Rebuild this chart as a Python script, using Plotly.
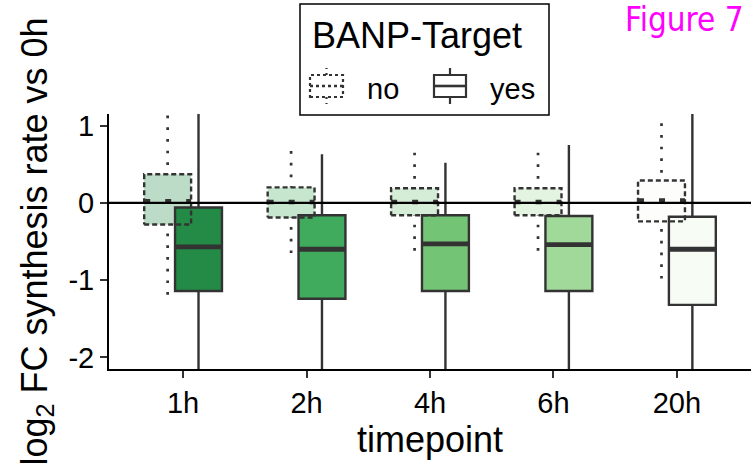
import plotly.graph_objects as go

# Timepoints and box statistics (log2 fold change of synthesis rate vs 0h)
timepoints = ["1h", "2h", "4h", "6h", "20h"]

# BANP-Target = "no"
no_lo = [-1.19, -0.65, -0.62, -0.62, -0.98]
no_q1 = [-0.28, -0.19, -0.16, -0.16, -0.24]
no_med = [0.02, 0.01, 0.01, 0.01, 0.03]
no_q3 = [0.37, 0.20, 0.19, 0.19, 0.29]
no_hi = [1.13, 0.67, 0.65, 0.65, 1.03]

# BANP-Target = "yes"
yes_lo = [-2.76, -2.86, -2.61, -2.60, -3.03]
yes_q1 = [-1.14, -1.24, -1.14, -1.14, -1.32]
yes_med = [-0.57, -0.60, -0.53, -0.54, -0.60]
yes_q3 = [-0.06, -0.16, -0.16, -0.17, -0.18]
yes_hi = [1.56, 0.63, 0.52, 0.75, 1.53]

# Greens fill per timepoint
fill_rgb = [(35, 139, 69), (65, 171, 93), (116, 196, 118), (161, 217, 155), (247, 252, 245)]

y_ticks = [-2, -1, 0, 1]
y_ticktext = ["-2", "-1", "0", "1"]

legend_title = "BANP-Target"
legend_labels = ["no", "yes"]

DODGE = 0.125
BOX_W = 0.38
EDGE = "#333333"
FONT = "Liberation Sans"

# Figure geometry (pixels) used to place the hand-built legend
W, H = 751, 470
ML, MR, MT, MB = 109, 0, 114, 101
PW, PH = W - ML - MR, H - MT - MB


def px(x):
    return (x - ML) / PW


def py(y):
    return (H - MB - y) / PH


fig = go.Figure()

# "no" boxes: translucent fill, dashed outline, dotted whiskers
for i, tp in enumerate(timepoints):
    c = i - DODGE
    r, g, b = fill_rgb[i]
    fig.add_trace(go.Box(
        x=[c], q1=[no_q1[i]], median=[no_med[i]], q3=[no_q3[i]],
        lowerfence=[no_lo[i]], upperfence=[no_hi[i]],
        width=BOX_W, whiskerwidth=0, boxpoints=False,
        fillcolor=f"rgba({r},{g},{b},0.3)", line=dict(width=0, color="rgba(0,0,0,0)"),
        showlegend=False, hoverinfo="skip",
    ))
    left, right = c - BOX_W / 2, c + BOX_W / 2
    fig.add_trace(go.Scatter(
        x=[left, right, right, left, left],
        y=[no_q1[i], no_q1[i], no_q3[i], no_q3[i], no_q1[i]],
        mode="lines", line=dict(color=EDGE, width=2.4, dash="5px,3px"),
        showlegend=False, hoverinfo="skip",
    ))
    # whiskers run from the fence tip back to the box so the dots reach the tip
    fig.add_trace(go.Scatter(
        x=[c, c, None, c, c],
        y=[no_hi[i], no_q3[i], None, no_lo[i], no_q1[i]],
        mode="lines", line=dict(color=EDGE, width=2.7, dash="2.7px,9px"),
        showlegend=False, hoverinfo="skip",
    ))
    fig.add_trace(go.Scatter(
        x=[left, right], y=[no_med[i], no_med[i]],
        mode="lines", line=dict(color=EDGE, width=4.5, dash="6px,15px"),
        showlegend=False, hoverinfo="skip",
    ))

# "yes" boxes: solid fill and outline, thick median
for i, tp in enumerate(timepoints):
    c = i + DODGE
    r, g, b = fill_rgb[i]
    fig.add_trace(go.Box(
        x=[c], q1=[yes_q1[i]], median=[yes_med[i]], q3=[yes_q3[i]],
        lowerfence=[yes_lo[i]], upperfence=[yes_hi[i]],
        width=BOX_W, whiskerwidth=0, boxpoints=False,
        fillcolor=f"rgb({r},{g},{b})", line=dict(width=2.4, color=EDGE),
        showlegend=False, hoverinfo="skip",
    ))
    fig.add_trace(go.Scatter(
        x=[c - BOX_W / 2, c + BOX_W / 2], y=[yes_med[i], yes_med[i]],
        mode="lines", line=dict(color=EDGE, width=4.8),
        showlegend=False, hoverinfo="skip",
    ))

fig.add_hline(y=0, line=dict(color="black", width=2.2), layer="above")

# Legend drawn with shapes and annotations
shapes = []
shapes.append(dict(type="rect", xref="paper", yref="paper",
                   x0=px(300), x1=px(549), y0=py(115), y1=py(4),
                   line=dict(color="black", width=1.5), fillcolor="white", layer="above"))


def key_shapes(x0, x1, dash, whisk_dash):
    xc = (x0 + x1) / 2
    out = [
        dict(type="rect", x0=px(x0), x1=px(x1), y0=py(97), y1=py(75),
             line=dict(color=EDGE, width=2.2, dash=dash), fillcolor="white"),
        dict(type="line", x0=px(x0), x1=px(x1), y0=py(86), y1=py(86),
             line=dict(color=EDGE, width=2.6, dash=dash)),
        dict(type="line", x0=px(xc), x1=px(xc), y0=py(75), y1=py(68),
             line=dict(color=EDGE, width=2.2, dash=whisk_dash)),
        dict(type="line", x0=px(xc), x1=px(xc), y0=py(97), y1=py(104),
             line=dict(color=EDGE, width=2.2, dash=whisk_dash)),
    ]
    for s in out:
        s.update(xref="paper", yref="paper", layer="above")
    return out


shapes += key_shapes(310, 343, "3px,3px", "2px,4px")
shapes += key_shapes(434, 466, "solid", "solid")

annotations = [
    dict(text=legend_title, x=px(310), y=py(35), xanchor="left", yanchor="middle",
         font=dict(family=FONT, size=36, color="black")),
    dict(text=legend_labels[0], x=px(365), y=py(89), xanchor="left", yanchor="middle",
         font=dict(family=FONT, size=29, color="black")),
    dict(text=legend_labels[1], x=px(488), y=py(89), xanchor="left", yanchor="middle",
         font=dict(family=FONT, size=29, color="black")),
    dict(text="Figure 7", x=px(746), y=py(19), xanchor="right", yanchor="middle",
         font=dict(family="DejaVu Sans Condensed, DejaVu Sans", size=33, color="#ff00ff")),
]
for a in annotations:
    a.update(xref="paper", yref="paper", showarrow=False)

axis_common = dict(
    showline=True, linecolor="black", linewidth=2, mirror=False,
    ticks="outside", ticklen=7, tickwidth=2, tickcolor=EDGE,
    showgrid=False, zeroline=False,
    tickfont=dict(family=FONT, size=29, color="black"),
)

fig.update_layout(
    width=W, height=H,
    margin=dict(l=ML, r=MR, t=MT, b=MB),
    paper_bgcolor="white", plot_bgcolor="white",
    boxmode="overlay", showlegend=False,
    font=dict(family=FONT, color="black"),
    shapes=list(fig.layout.shapes) + shapes,
    annotations=annotations,
    xaxis=dict(
        range=[-0.6, 4.6], tickvals=list(range(len(timepoints))), ticktext=timepoints,
        title=dict(text="timepoint", font=dict(family=FONT, size=36), standoff=8),
        **axis_common,
    ),
    yaxis=dict(
        range=[-2.15, 1.15], tickvals=y_ticks, ticktext=y_ticktext,
        title=dict(text="log<sub>2</sub> FC synthesis rate vs 0h",
                   font=dict(family=FONT, size=36), standoff=10),
        **axis_common,
    ),
)

fig.write_html("out.html")
